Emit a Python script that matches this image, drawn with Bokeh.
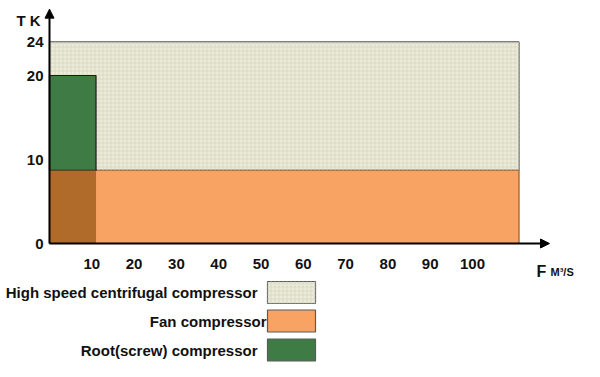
from bokeh.plotting import figure
from bokeh.models import Range1d, Arrow, NormalHead, ColumnDataSource
from bokeh.embed import file_html
from bokeh.resources import INLINE
from bokeh.core.properties import value

# ---- data ----
regions = ["High speed centrifugal compressor", "Fan compressor", "Root(screw) compressor"]
f_start = [0, 0, 0]
f_end = [111, 111, 11]
t_start = [8.7, 0, 8.7]
t_end = [24, 8.7, 20]
overlap_f = [0, 11]      # root range over fan range
overlap_t = [0, 8.7]
fill_colors = ["#ecebdb", "#f8a363", "#3f7c45"]
line_colors = ["#555555", "#9a5a22", "#1a1a1a"]
overlap_color = "#b06a2a"

x_ticks = [10, 20, 30, 40, 50, 60, 70, 80, 90, 100]
x_tick_labels = [str(v) for v in x_ticks]
y_ticks = [0, 10, 20, 24]
y_tick_labels = [str(v) for v in y_ticks]
x_arrow_end = 118.2
y_arrow_end = 27.9

# ---- layout constants (pixel geometry of the page) ----
W, H = 600, 377
X0_PX, Y0_PX = 49, 243
SX, SY = 4.23, 8.4


def dx(px):
    return (px - X0_PX) / SX


def dy(py):
    return (Y0_PX - py) / SY


FONT = value("Liberation Sans")
TXT = "#111111"

p = figure(width=W, height=H, output_backend="svg", toolbar_location=None,
           x_axis_type=None, y_axis_type=None, min_border=0,
           x_range=Range1d(dx(0), dx(W)), y_range=Range1d(dy(H), dy(0)))
p.outline_line_color = None
p.grid.visible = False
p.background_fill_color = "white"

# regions
src = ColumnDataSource(dict(l=f_start[:2], r=f_end[:2], b=t_start[:2], t=t_end[:2],
                            fc=fill_colors[:2], lc=line_colors[:2]))
p.quad(left="l", right="r", bottom="b", top="t", source=src, fill_color="fc",
       line_color="lc", line_width=1.2)
# texture on high-speed region
p.quad(left=[f_start[0]], right=[f_end[0]], bottom=[t_start[0]], top=[t_end[0]],
       fill_color=None, line_color=None, hatch_pattern="+", hatch_color="#d6d5bf",
       hatch_scale=4, hatch_weight=0.8)
# root region
p.quad(left=[f_start[2]], right=[f_end[2]], bottom=[t_start[2]], top=[t_end[2]],
       fill_color=fill_colors[2], line_color=line_colors[2], line_width=1.2)
# overlap root/fan
p.quad(left=[overlap_f[0]], right=[overlap_f[1]], bottom=[overlap_t[0]], top=[overlap_t[1]],
       fill_color=overlap_color, line_color=None)

# axes with arrows
p.add_layout(Arrow(end=NormalHead(size=9, fill_color="black", line_color="black"),
                   x_start=0, y_start=0, x_end=x_arrow_end, y_end=0,
                   line_color="black", line_width=2))
p.add_layout(Arrow(end=NormalHead(size=9, fill_color="black", line_color="black"),
                   x_start=0, y_start=0, x_end=0, y_end=y_arrow_end,
                   line_color="black", line_width=2))

# tick labels
p.text(x=x_ticks, y=[0] * len(x_ticks), text=x_tick_labels, y_offset=20,
       text_align="center", text_baseline="middle", text_font=FONT,
       text_font_style="bold", text_font_size="15px", text_color=TXT)
p.text(x=[0] * len(y_ticks), y=y_ticks, text=y_tick_labels, x_offset=-6,
       text_align="right", text_baseline="middle", text_font=FONT,
       text_font_style="bold", text_font_size="15px", text_color=TXT)

# axis titles
p.text(x=[dx(16)], y=[dy(20)], text=["T  K"], text_align="left", text_baseline="middle",
       text_font=FONT, text_font_style="bold", text_font_size="15px", text_color=TXT)
p.text(x=[dx(536)], y=[dy(271)], text=["F"], text_align="left", text_baseline="alphabetic",
       text_font=FONT, text_font_style="bold", text_font_size="16px", text_color=TXT)
p.text(x=[dx(550)], y=[dy(271)], text=["M³/S"], text_align="left", text_baseline="alphabetic",
       text_font=FONT, text_font_style="bold", text_font_size="11px", text_color=TXT)

# legend
row_y = [292, 320.5, 349.5]
text_right = [257, 266, 257]
box_l, box_r, box_h = 267, 315, 22
for i, name in enumerate(regions):
    p.quad(left=[dx(box_l)], right=[dx(box_r)], bottom=[dy(row_y[i] + box_h / 2)],
           top=[dy(row_y[i] - box_h / 2)], fill_color=fill_colors[i],
           line_color="#5a5a5a", line_width=1.2)
    if i == 0:
        p.quad(left=[dx(box_l)], right=[dx(box_r)], bottom=[dy(row_y[i] + box_h / 2)],
               top=[dy(row_y[i] - box_h / 2)], fill_color=None, line_color=None,
               hatch_pattern="+", hatch_color="#d6d5bf", hatch_scale=4, hatch_weight=0.8)
    p.text(x=[dx(text_right[i])], y=[dy(row_y[i])], text=[name], text_align="right",
           text_baseline="middle", text_font=FONT, text_font_style="bold",
           text_font_size="15px", text_color=TXT)

open("out.html", "w").write(file_html(p, INLINE))
